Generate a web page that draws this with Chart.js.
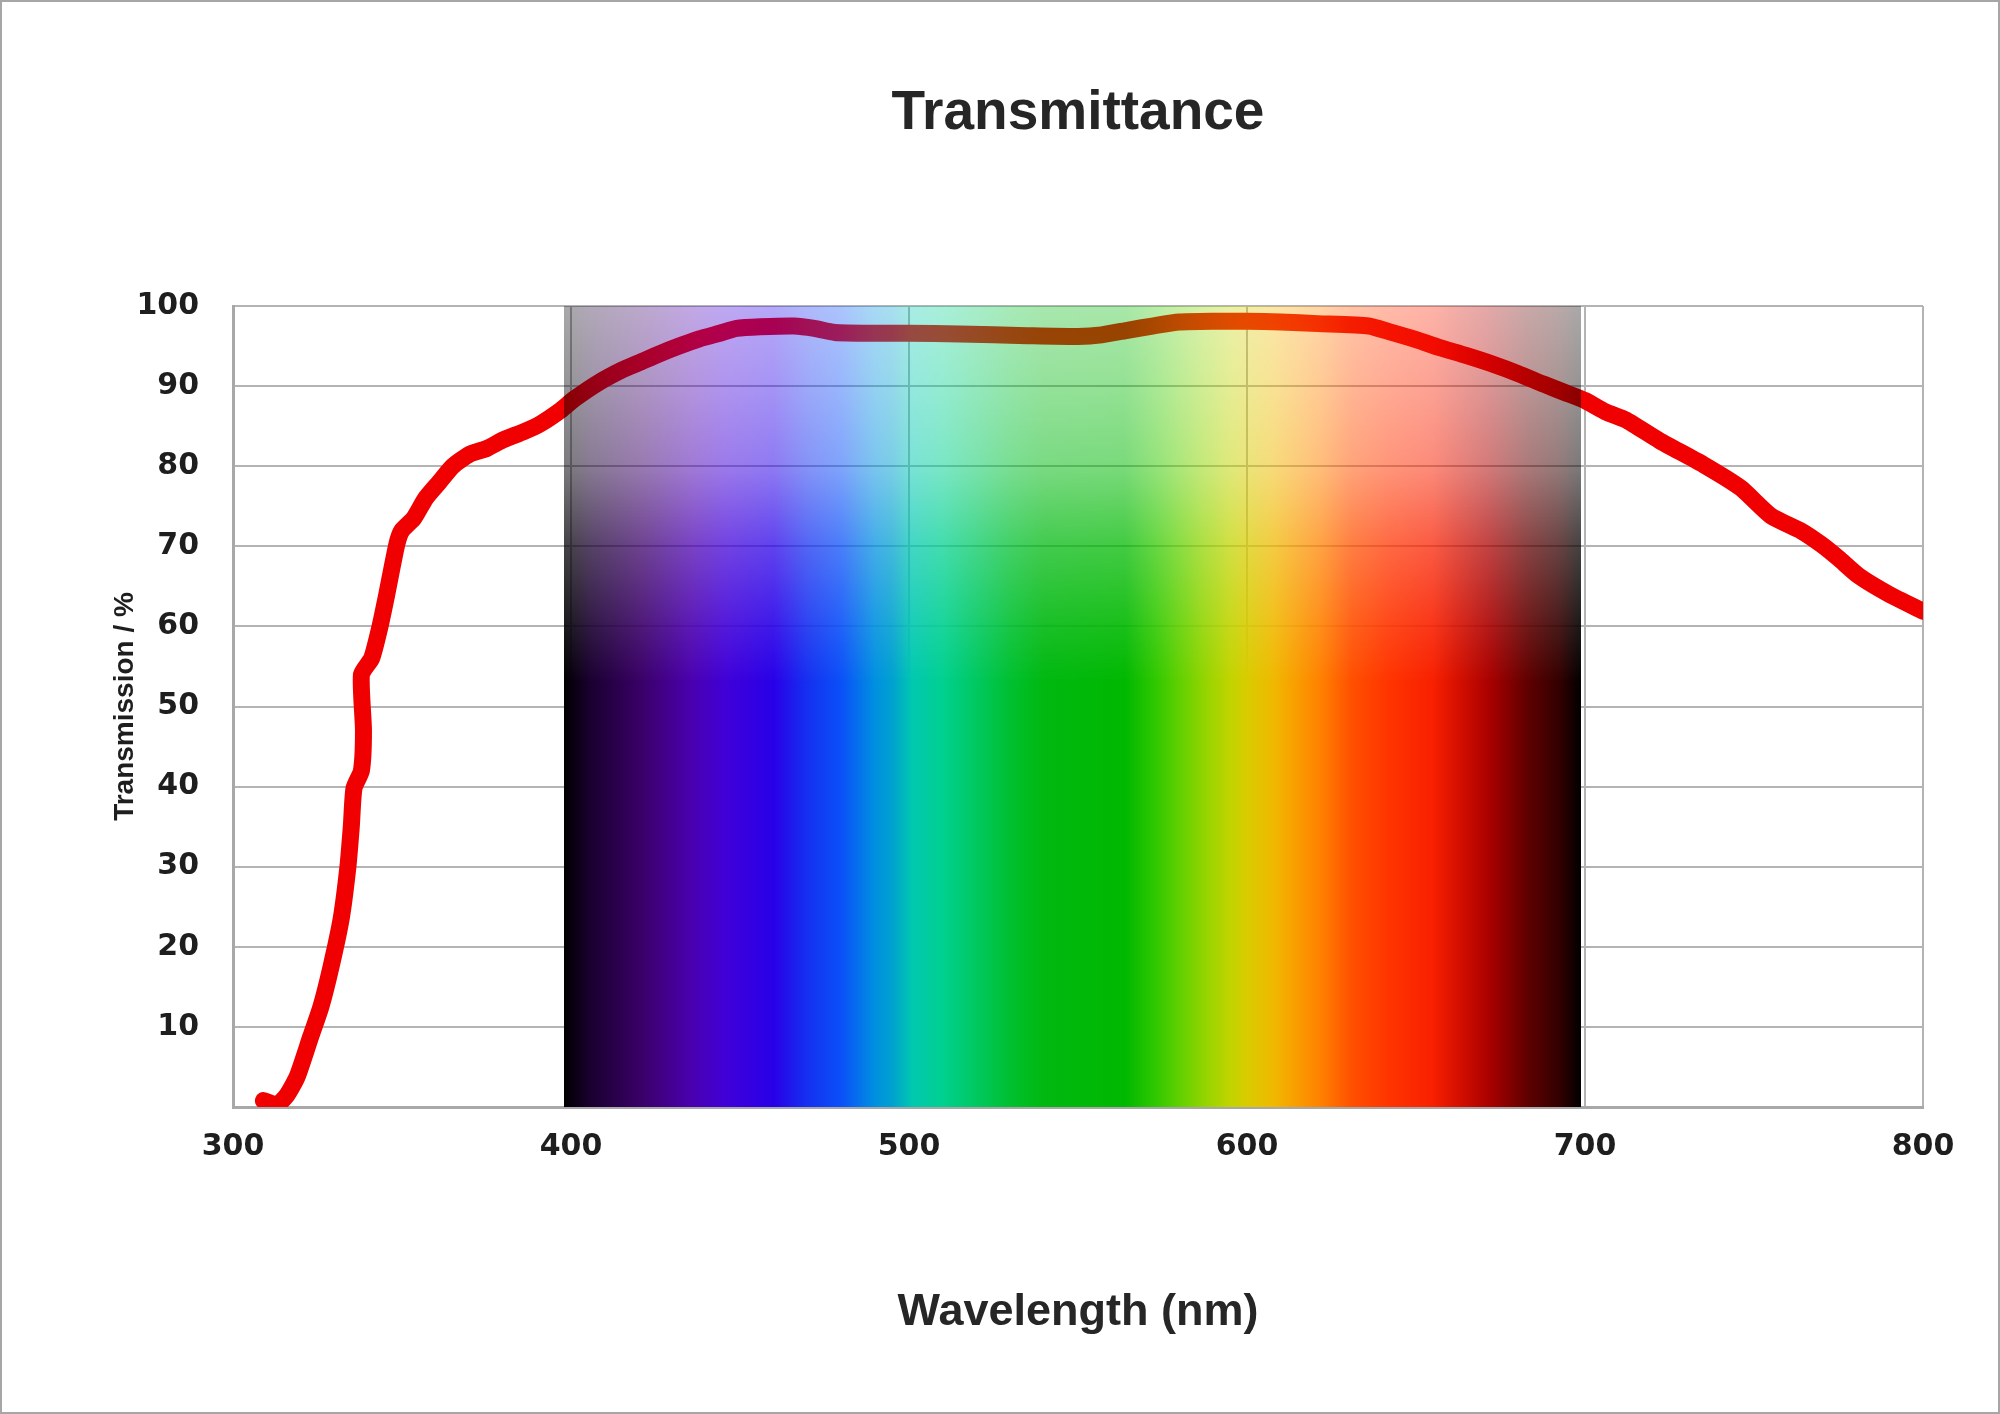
<!DOCTYPE html>
<html>
<head>
<meta charset="utf-8">
<script src="https://cdn.jsdelivr.net/npm/chart.js@4.4.1/dist/chart.umd.min.js"></script>
<style>
  html, body { margin: 0; padding: 0; background: #ffffff; }
  #wrap { width: 2000px; height: 1414px; position: relative; }
</style>
</head>
<body>
<div id="wrap"><canvas id="c"></canvas></div>
<script>
// ---- data ----
const wavelengths = [309, 313, 316, 319, 323, 326, 329, 332, 334, 335, 335.8, 338, 338.6, 338, 341, 343.5, 345.5, 348.5, 350, 353.5, 357, 361, 365, 370, 375, 380, 386, 391, 397, 401, 408, 415, 420, 426, 432, 438, 444, 449, 456, 466, 472, 478, 490, 500, 515, 535, 550, 557, 565, 572, 580, 590, 600, 610, 621, 636, 642, 650, 657, 665, 673, 680, 688, 694, 700, 706, 712, 722, 735, 746, 755, 764, 770, 775, 781, 790, 800];
const transmission = [0.8, 0.3, 1.5, 3.8, 8.8, 12.5, 17.5, 23.5, 30, 35, 39.8, 42, 47, 54, 56, 60, 64, 70.3, 72, 73.5, 76, 78, 80, 81.5, 82.2, 83.3, 84.3, 85.3, 87, 88.4, 90.4, 92, 92.9, 94, 95, 95.9, 96.6, 97.2, 97.4, 97.5, 97.2, 96.7, 96.6, 96.6, 96.5, 96.3, 96.2, 96.4, 97, 97.5, 98, 98.1, 98.1, 98, 97.8, 97.5, 96.8, 95.8, 94.8, 93.8, 92.7, 91.6, 90.2, 89.2, 88.2, 86.8, 85.8, 83.2, 80.2, 77.3, 73.8, 71.9, 70.2, 68.5, 66.3, 64, 61.9];
const xTicks = [300, 400, 500, 600, 700, 800];
const yTicks = [10, 20, 30, 40, 50, 60, 70, 80, 90, 100];
const spectrumWavelengths = [398, 406, 421, 436, 446, 460, 470, 480, 490, 495, 501, 510, 520, 530, 540, 564, 573, 580, 587, 595, 600, 608, 614, 622, 631, 642, 655, 662, 672, 683, 693, 699];
const spectrumColors = ['#000000', '#1a0030', '#3a0068', '#4a00b0', '#4000d8', '#2800e8', '#1530f0', '#0a50f8', '#0090e0', '#00a0d0', '#00c8b0', '#00d090', '#00c860', '#00c030', '#00b810', '#00b800', '#30c800', '#60d000', '#90d400', '#c0d400', '#d8cc00', '#f0b800', '#f8a000', '#ff8000', '#ff5000', '#ff3400', '#f82000', '#d81000', '#a80000', '#600000', '#300000', '#000000'];
const fadeLevels = [100, 90, 80, 70, 60, 53, 0];
const fadeAlpha = [0.34, 0.42, 0.52, 0.74, 0.9, 1, 1];

const points = wavelengths.map((w, i) => ({ x: w, y: transmission[i] }));

const bgPlugin = {
  id: 'bg',
  beforeDraw(chart) {
    const ctx = chart.ctx;
    ctx.save();
    ctx.fillStyle = '#ffffff';
    ctx.fillRect(0, 0, chart.width, chart.height);
    ctx.restore();
  },
  afterDraw(chart) {
    const ctx = chart.ctx;
    ctx.save();
    ctx.strokeStyle = '#a6a6a6';
    ctx.lineWidth = 2;
    ctx.strokeRect(1, 1, chart.width - 2, chart.height - 2);
    ctx.restore();
  }
};

const spectrumPlugin = {
  id: 'spectrum',
  afterDatasetsDraw(chart) {
    const { ctx, scales: { x, y } } = chart;
    const x0 = x.getPixelForValue(spectrumWavelengths[0]);
    const x1 = x.getPixelForValue(spectrumWavelengths[spectrumWavelengths.length - 1]);
    const yTop = y.getPixelForValue(100);
    const yBot = y.getPixelForValue(0);
    const w = Math.max(1, Math.round(x1 - x0));
    const h = Math.max(1, Math.round(yBot - yTop));
    const off = document.createElement('canvas');
    off.width = w; off.height = h;
    const o = off.getContext('2d');
    const clamp = v => Math.min(1, Math.max(0, v));
    const hg = o.createLinearGradient(0, 0, w, 0);
    spectrumWavelengths.forEach((wl, i) => hg.addColorStop(clamp((x.getPixelForValue(wl) - x0) / w), spectrumColors[i]));
    o.fillStyle = hg;
    o.fillRect(0, 0, w, h);
    o.globalCompositeOperation = 'destination-in';
    const vg = o.createLinearGradient(0, 0, 0, h);
    fadeLevels.forEach((lv, i) => vg.addColorStop(clamp((y.getPixelForValue(lv) - yTop) / h), 'rgba(0,0,0,' + fadeAlpha[i] + ')'));
    o.fillStyle = vg;
    o.fillRect(0, 0, w, h);
    ctx.save();
    ctx.drawImage(off, Math.round(x0), Math.round(yTop));
    ctx.restore();
  }
};

new Chart(document.getElementById('c'), {
  type: 'line',
  data: {
    datasets: [{
      data: points,
      borderColor: '#f00000',
      borderWidth: 17,
      borderCapStyle: 'round',
      borderJoinStyle: 'round',
      pointRadius: 0,
      tension: 0.2,
      fill: false
    }]
  },
  options: {
    responsive: true,
    maintainAspectRatio: false,
    devicePixelRatio: 1,
    animation: false,
    layout: { padding: { left: 0, right: 77, top: 0, bottom: 0 } },
    plugins: {
      legend: { display: false },
      tooltip: { enabled: false },
      title: {
        display: true,
        fullSize: false,
        text: 'Transmittance',
        color: '#262626',
        font: { family: 'Liberation Sans', size: 55, weight: 'bold' },
        padding: { top: 81, bottom: 159 }
      }
    },
    scales: {
      x: {
        type: 'linear',
        min: 300,
        max: 800,
        afterBuildTicks: s => { s.ticks = xTicks.map(v => ({ value: v })); },
        afterFit: s => { s.height = 307; },
        ticks: {
          color: '#1e1e1e',
          font: { family: 'DejaVu Sans', size: 30, weight: 'bold' },
          padding: 22,
          maxRotation: 0
        },
        grid: { color: '#b4b4b4', lineWidth: 2, drawTicks: false },
        border: { color: '#a8a8a8', width: 3 },
        title: {
          display: true,
          text: 'Wavelength (nm)',
          color: '#262626',
          font: { family: 'Liberation Sans', size: 45, weight: 'bold' },
          padding: { top: 0, bottom: 74 }
        }
      },
      y: {
        type: 'linear',
        min: 0,
        max: 100,
        afterBuildTicks: s => { s.ticks = [0].concat(yTicks).map(v => ({ value: v })); },
        afterFit: s => { s.width = 233; },
        ticks: {
          color: '#1e1e1e',
          font: { family: 'DejaVu Sans', size: 30, weight: 'bold' },
          padding: 34,
          callback: v => (yTicks.includes(v) ? String(v) : '')
        },
        grid: { color: '#b4b4b4', lineWidth: 2, drawTicks: false },
        border: { color: '#a8a8a8', width: 3 },
        title: {
          display: true,
          text: 'Transmission / %',
          color: '#1e1e1e',
          font: { family: 'Liberation Sans', size: 28, weight: 'bold' },
          padding: { top: 108, bottom: 0 }
        }
      }
    }
  },
  plugins: [bgPlugin, spectrumPlugin]
});
</script>
</body>
</html>
